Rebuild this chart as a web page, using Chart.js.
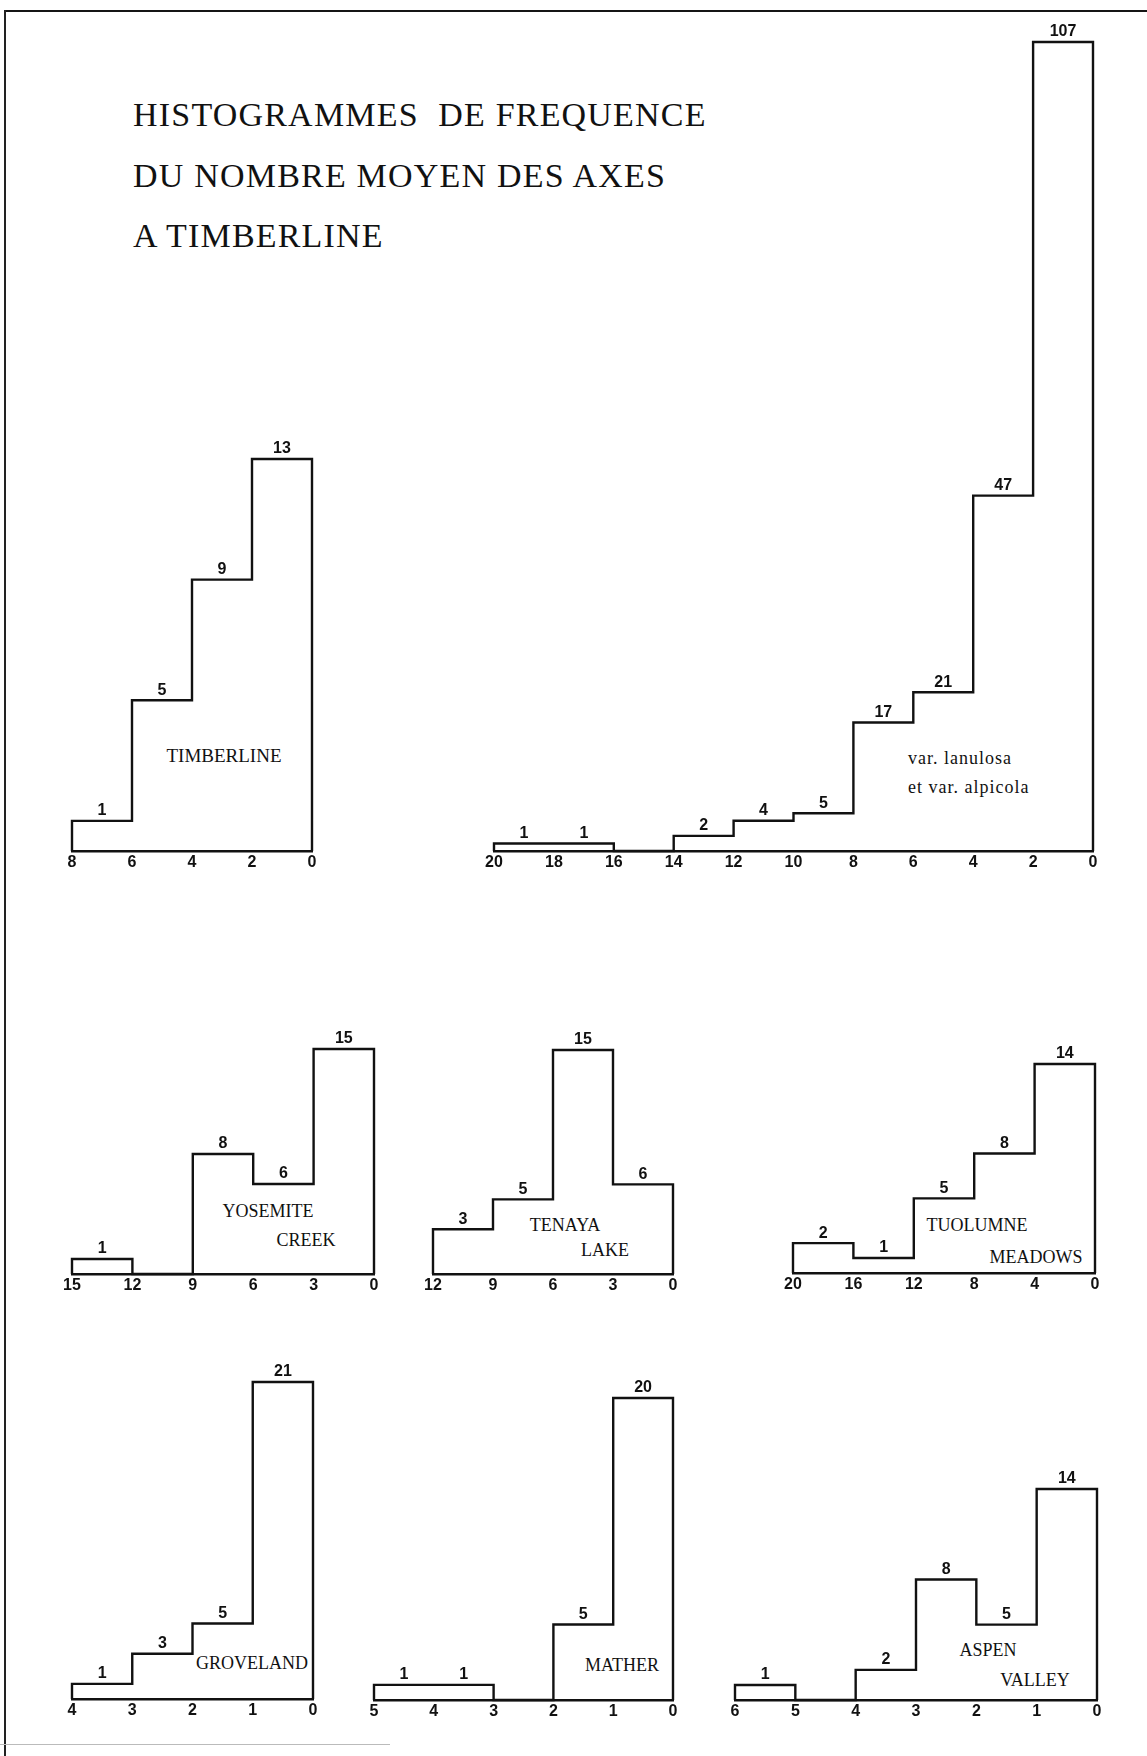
<!DOCTYPE html>
<html>
<head>
<meta charset="utf-8">
<script src="https://cdn.jsdelivr.net/npm/chart.js@4.4.1/dist/chart.umd.min.js"></script>
<style>
  body { margin: 0; background: #fff; }
  #page { position: relative; width: 1147px; height: 1756px; overflow: hidden; background: #fff; }
  .frame-top { position: absolute; left: 4px; top: 10px; width: 1143px; height: 2px; background: #151515; }
  .frame-left { position: absolute; left: 4px; top: 10px; width: 2px; height: 1746px; background: #222; }
  .frame-bottom { position: absolute; left: 0; top: 1744px; width: 390px; height: 1px; background: #bbb; }
  .title { position: absolute; left: 133px; font-family: "Liberation Serif", serif; font-size: 34px;
           line-height: 34px; letter-spacing: 1.2px; color: #111; white-space: pre; }
  .name { position: absolute; font-family: "Liberation Serif", serif; font-size: 18px; line-height: 18px;
          color: #111; white-space: nowrap; transform: translate(-50%, -50%); }
  .note { position: absolute; font-family: "Liberation Serif", serif; font-size: 18px; line-height: 18px;
          letter-spacing: 1px; color: #111; white-space: nowrap; transform: translateY(-50%); }
  canvas { position: absolute; }
</style>
</head>
<body>
<div id="page">
  <div class="frame-top"></div>
  <div class="frame-left"></div>
  <div class="frame-bottom"></div>

  <div class="title" style="top:98px">HISTOGRAMMES  DE FREQUENCE</div>
  <div class="title" style="top:159px">DU NOMBRE MOYEN DES AXES</div>
  <div class="title" style="top:219px">A TIMBERLINE</div>

  <div class="name" style="left:224px; top:756px; font-size:19px">TIMBERLINE</div>
  <div class="note" style="left:908px; top:758px">var. lanulosa</div>
  <div class="note" style="left:908px; top:787px">et var. alpicola</div>
  <div class="name" style="left:268px; top:1211px">YOSEMITE</div>
  <div class="name" style="left:306px; top:1240px">CREEK</div>
  <div class="name" style="left:565px; top:1225px">TENAYA</div>
  <div class="name" style="left:605px; top:1250px">LAKE</div>
  <div class="name" style="left:977px; top:1225px">TUOLUMNE</div>
  <div class="name" style="left:1036px; top:1257px">MEADOWS</div>
  <div class="name" style="left:252px; top:1663px">GROVELAND</div>
  <div class="name" style="left:622px; top:1665px">MATHER</div>
  <div class="name" style="left:988px; top:1650px">ASPEN</div>
  <div class="name" style="left:1035px; top:1680px">VALLEY</div>
</div>

<script>
// class edges (x tick labels, left to right) and counts per class
const timberlineEdges = [8, 6, 4, 2, 0];
const timberlineCounts = [1, 5, 9, 13];

const lanulosaEdges = [20, 18, 16, 14, 12, 10, 8, 6, 4, 2, 0];
const lanulosaCounts = [1, 1, 0, 2, 4, 5, 17, 21, 47, 107];

const yosemiteEdges = [15, 12, 9, 6, 3, 0];
const yosemiteCounts = [1, 0, 8, 6, 15];

const tenayaEdges = [12, 9, 6, 3, 0];
const tenayaCounts = [3, 5, 15, 6];

const tuolumneEdges = [20, 16, 12, 8, 4, 0];
const tuolumneCounts = [2, 1, 5, 8, 14];

const grovelandEdges = [4, 3, 2, 1, 0];
const grovelandCounts = [1, 3, 5, 21];

const matherEdges = [5, 4, 3, 2, 1, 0];
const matherCounts = [1, 1, 0, 5, 20];

const aspenEdges = [6, 5, 4, 3, 2, 1, 0];
const aspenCounts = [1, 0, 2, 8, 5, 14];

// plot area of each histogram on the page: [left, top, right, baseline]
const panels = [
  { edges: timberlineEdges, counts: timberlineCounts, box: [72, 459, 312, 851] },
  { edges: lanulosaEdges, counts: lanulosaCounts, box: [494, 42, 1093, 851] },
  { edges: yosemiteEdges, counts: yosemiteCounts, box: [72, 1049, 374, 1274] },
  { edges: tenayaEdges, counts: tenayaCounts, box: [433, 1050, 673, 1274] },
  { edges: tuolumneEdges, counts: tuolumneCounts, box: [793, 1064, 1095, 1273] },
  { edges: grovelandEdges, counts: grovelandCounts, box: [72, 1382, 313, 1699] },
  { edges: matherEdges, counts: matherCounts, box: [374, 1398, 673, 1700] },
  { edges: aspenEdges, counts: aspenCounts, box: [735, 1489, 1097, 1700] },
];

const INK = "#111";
const PAD_X = 20;
const PAD_TOP = 26;
const AXIS_H = 28;
const numFont = { family: "'Liberation Sans', Arial, sans-serif", size: 16, weight: "bold" };

// outline of the histogram as a stepped line
function stepPoints(edges, counts) {
  const pts = [{ x: edges[0], y: 0 }];
  counts.forEach((c, i) => pts.push({ x: edges[i], y: c }));
  pts.push({ x: edges[edges.length - 1], y: 0 });
  return pts;
}

// count written above each class
function countLabels(edges, counts) {
  return {
    id: "countLabels",
    afterDatasetsDraw(chart) {
      const { ctx, scales } = chart;
      ctx.save();
      ctx.fillStyle = INK;
      ctx.font = `bold ${numFont.size}px ${numFont.family}`;
      ctx.textAlign = "center";
      ctx.textBaseline = "bottom";
      counts.forEach((c, i) => {
        if (!c) return;
        const x = scales.x.getPixelForValue((edges[i] + edges[i + 1]) / 2);
        const y = scales.y.getPixelForValue(c);
        ctx.fillText(String(c), x, y - 2);
      });
      ctx.restore();
    },
  };
}

const page = document.getElementById("page");

panels.forEach((p) => {
  const [l, t, r, b] = p.box;
  const canvas = document.createElement("canvas");
  canvas.width = r - l + PAD_X * 2;
  canvas.height = b - t + PAD_TOP + AXIS_H;
  canvas.style.left = l - PAD_X + "px";
  canvas.style.top = t - PAD_TOP + "px";
  page.appendChild(canvas);

  const maxEdge = p.edges[0];
  const step = p.edges[0] - p.edges[1];

  new Chart(canvas, {
    type: "line",
    data: {
      datasets: [
        {
          data: stepPoints(p.edges, p.counts),
          stepped: true,
          borderColor: INK,
          borderWidth: 2.4,
          borderJoinStyle: "miter",
          pointRadius: 0,
          fill: false,
          clip: false,
        },
      ],
    },
    options: {
      responsive: false,
      animation: false,
      devicePixelRatio: 1,
      events: [],
      layout: {
        autoPadding: false,
        padding: { left: PAD_X, right: PAD_X, top: PAD_TOP, bottom: 0 },
      },
      plugins: { legend: { display: false }, tooltip: { enabled: false } },
      scales: {
        x: {
          type: "linear",
          reverse: true,
          min: 0,
          max: maxEdge,
          grid: { display: false, drawTicks: false },
          border: { display: true, color: INK, width: 2.4 },
          ticks: {
            stepSize: step,
            autoSkip: false,
            maxRotation: 0,
            padding: 2,
            color: INK,
            font: numFont,
          },
          afterFit: (axis) => { axis.height = AXIS_H; },
        },
        y: {
          display: false,
          min: 0,
          max: Math.max(...p.counts),
        },
      },
    },
    plugins: [countLabels(p.edges, p.counts)],
  });
});
</script>
</body>
</html>
